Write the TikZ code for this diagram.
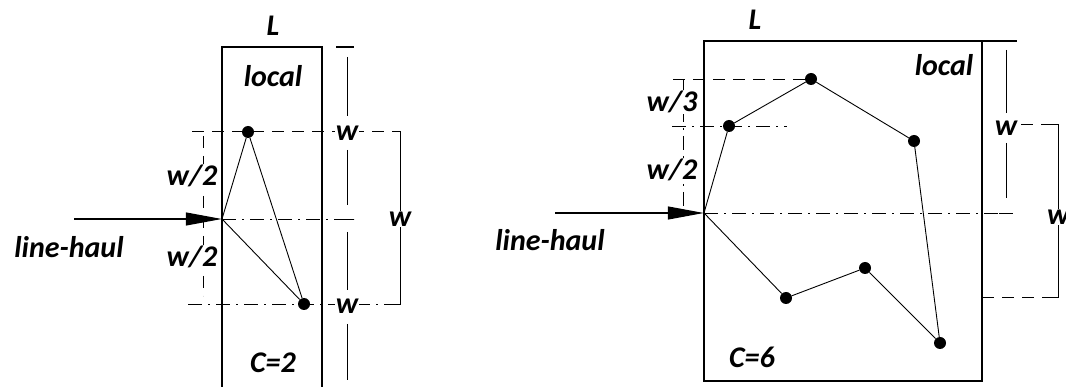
\documentclass[tikz,border=0pt]{standalone}
\usepackage{fontspec}
\setmainfont{Carlito}
\usetikzlibrary{arrows.meta}
\begin{document}
\begin{tikzpicture}[x=1pt,y=-1pt,
  lbl/.style={font=\fontsize{30}{34}\selectfont\bfseries\itshape, inner sep=1pt},
  wl/.style={lbl, fill=white},
  dot/.style={circle, fill=black, inner sep=0pt, minimum size=12pt},
  pt/.style={inner sep=0pt, minimum size=0pt},
  boxl/.style={line width=1.3pt},
  thin/.style={line width=0.9pt},
  dsh/.style={line width=0.9pt, dash pattern=on 12pt off 8pt},
  dshd/.style={line width=0.9pt, dash pattern=on 14pt off 6pt on 2pt off 6pt},
  haul/.style={line width=1.2pt, -{Triangle[length=36pt,width=13pt]}}]
\useasboundingbox (0,0) rectangle (1066,387);

% ================= LEFT PANEL =================
\draw[boxl] (222,387) -- (222,47) -- (322,47) -- (322,387);
\draw[boxl] (336,47) -- (354,47);
\node[lbl] (L1) at (273,26) {L};
\node[lbl] (loc1) at (273,76) {local};
\node[lbl] (c1) at (273,363) {C=2};
\node[lbl] (lh1) at (69,247) {line-haul};

% guide lines
\draw[dsh] (192,131) -- (400,131);
\draw[dshd] (222,219) -- (354,219);
\draw[dshd] (188,304) -- (400,304);
\draw[dsh] (203,136) -- (203,296);
\node[wl] (h1a) at (192,176) {w/2};
\node[wl] (h1b) at (192,257) {w/2};

% vertical dimension at 347
\draw[thin] (347,57) -- (347,116);
\draw[thin] (347,150) -- (347,205);
\draw[thin] (338,219) -- (354,219);
\draw[thin] (347,232) -- (347,290);
\draw[thin] (347,324) -- (347,380);
\node[wl] (w1a) at (347,133) {w};
\node[wl] (w1b) at (347,306) {w};

% bracket at 400
\draw[thin] (393,131) -- (400,131) -- (400,304) -- (393,304);
\node[wl] (w1c) at (400,219) {w};

% route
\node[pt] (a1) at (222,219) {};
\node[dot] (t1) at (248,132) {};
\node[dot] (b1) at (304,304) {};
\coordinate (s1) at (74,219);
\draw[haul] (s1) -- (a1);
\draw[thin] (a1) -- (t1) -- (b1) -- (a1);

% ================= RIGHT PANEL =================
\draw[boxl] (704,41) rectangle (982,381);
\draw[boxl] (982,41) -- (1017,41);
\node[lbl] (L2) at (755,20) {L};
\node[lbl] (loc2) at (944,65) {local};
\node[lbl] (c2) at (752,357) {C=6};
\node[lbl] (lh2) at (550,240) {line-haul};

% guide lines
\draw[dsh] (673,79) -- (811,79);
\draw[dshd] (672,126) -- (787,126);
\draw[dshd] (683,80) -- (683,212);
\node[wl] (h2a) at (672,102) {w/3};
\node[wl] (h2b) at (672,170) {w/2};
\draw[dshd] (704,213) -- (1013,213);

% vertical dimension at 1006
\draw[thin] (1006,50) -- (1006,113);
\draw[thin] (1006,143) -- (1006,198);
\draw[thin] (999,213) -- (1013,213);
\node[lbl] (w2a) at (1006,128) {w};

% bracket at 1058
\draw[dsh] (1021,124) -- (1052,124);
\draw[thin] (1052,124) -- (1058,124) -- (1058,297) -- (1052,297);
\draw[dsh] (982,297) -- (1052,297);
\node[wl, anchor=west] (w2b) at (1046,217) {w};

% route
\node[pt] (a2) at (704,213) {};
\node[dot] (p1) at (729,126) {};
\node[dot] (p2) at (811,79) {};
\node[dot] (p3) at (914,141) {};
\node[dot] (p4) at (940,343) {};
\node[dot] (p5) at (865,268) {};
\node[dot] (p6) at (786,298) {};
\coordinate (s2) at (555,213);
\draw[haul] (s2) -- (a2);
\draw[thin] (a2) -- (p1) -- (p2) -- (p3) -- (p4) -- (p5) -- (p6) -- (a2);
\end{tikzpicture}
\end{document}
